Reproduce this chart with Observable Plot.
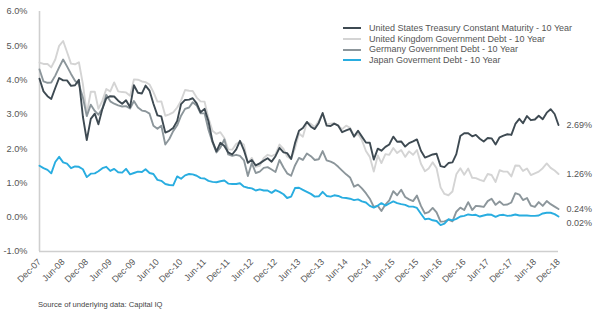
<!DOCTYPE html>
<html>
<head>
<meta charset="utf-8">
<script src="https://cdn.jsdelivr.net/npm/d3@7"></script>
<script src="https://cdn.jsdelivr.net/npm/@observablehq/plot@0.6"></script>
<style>
  body { margin: 0; background: #fff; font-family: "Liberation Sans", Arial, sans-serif; }
  #wrap { position: relative; width: 600px; height: 325px; overflow: hidden; }
  #legend { position: absolute; left: 343px; top: 23px; font-size: 9px; color: #555; line-height: 10.7px; }
  #legend .row { display: flex; align-items: center; white-space: nowrap; }
  #legend .sw { width: 18px; height: 2px; margin-right: 8px; }
  #source { position: absolute; left: 38px; top: 300px; font-size: 7.6px; color: #444; }
</style>
</head>
<body>
<div id="wrap">
  <div id="chart"></div>
  <div id="legend"></div>
  <div id="source">Source of underlying data: Capital IQ</div>
</div>
<script>
const seriesNames = [
  "United States Treasury Constant Maturity - 10 Year",
  "United Kingdom Government Debt - 10 Year",
  "Germany Government Debt - 10 Year",
  "Japan Goverment Debt - 10 Year"
];
const seriesColors = ["#3e4a52", "#d4d4d4", "#8c969b", "#29ade0"];

const tickLabels = ["Dec-07","Jun-08","Dec-08","Jun-09","Dec-09","Jun-10","Dec-10","Jun-11","Dec-11","Jun-12","Dec-12",
  "Jun-13","Dec-13","Jun-14","Dec-14","Jun-15","Dec-15","Jun-16","Dec-16","Jun-17","Dec-17","Jun-18","Dec-18"];
const yTicks = [-1, 0, 1, 2, 3, 4, 5, 6];

// Monthly values, Dec-07 .. Dec-18 (percent)
const us = [4.04,
  3.67,3.53,3.45,3.77,4.06,3.99,3.99,3.83,3.85,4.01,2.93,2.25,
  2.87,3.02,2.71,3.16,3.47,3.53,3.52,3.40,3.31,3.41,3.21,3.85,
  3.63,3.61,3.84,3.69,3.31,2.97,2.94,2.47,2.52,2.60,2.81,3.30,
  3.42,3.43,3.47,3.32,3.06,3.16,2.80,2.22,1.92,2.17,2.08,1.89,
  1.83,1.98,2.23,1.95,1.59,1.67,1.51,1.57,1.65,1.72,1.62,1.78,
  2.02,1.89,1.87,1.70,2.16,2.52,2.60,2.78,2.64,2.57,2.75,3.04,
  2.67,2.66,2.73,2.67,2.48,2.53,2.58,2.35,2.52,2.35,2.18,2.17,
  1.68,2.00,1.94,2.05,2.12,2.35,2.20,2.21,2.06,2.16,2.21,2.27,
  1.94,1.74,1.78,1.83,1.85,1.49,1.46,1.58,1.60,1.84,2.37,2.45,
  2.45,2.36,2.40,2.29,2.21,2.31,2.30,2.12,2.33,2.38,2.42,2.40,
  2.72,2.87,2.74,2.95,2.83,2.85,2.96,2.86,3.05,3.15,3.01,2.69];
const uk = [4.51,
  4.47,4.47,4.37,4.60,5.00,5.14,4.82,4.48,4.46,4.52,3.88,3.02,
  3.66,3.66,3.16,3.40,3.74,3.67,3.93,3.67,3.65,3.64,3.54,4.02,
  4.01,3.96,3.94,3.87,3.65,3.37,3.38,2.96,3.00,3.06,3.20,3.40,
  3.71,3.69,3.68,3.49,3.38,3.37,2.89,2.52,2.43,2.48,2.31,1.98,
  1.97,2.14,2.20,2.11,1.57,1.73,1.47,1.50,1.73,1.82,1.78,1.83,
  2.12,1.99,1.77,1.70,2.01,2.44,2.35,2.77,2.72,2.63,2.81,3.02,
  2.71,2.73,2.74,2.67,2.57,2.67,2.61,2.37,2.43,2.25,1.93,1.76,
  1.33,1.80,1.58,1.84,1.82,2.02,1.87,1.96,1.76,1.92,1.82,1.96,
  1.56,1.34,1.42,1.60,1.43,0.87,0.68,0.64,0.75,1.25,1.43,1.24,
  1.42,1.15,1.14,1.09,1.05,1.26,1.23,1.03,1.37,1.33,1.33,1.19,
  1.51,1.50,1.35,1.42,1.23,1.28,1.33,1.43,1.57,1.44,1.36,1.26];
const germany = [4.31,
  3.96,3.92,3.93,4.13,4.37,4.60,4.40,4.18,3.98,3.88,3.49,2.95,
  3.28,3.10,2.99,3.17,3.57,3.38,3.31,3.26,3.23,3.24,3.17,3.39,
  3.20,3.11,3.09,3.02,2.67,2.58,2.67,2.12,2.28,2.51,2.68,2.96,
  3.16,3.20,3.35,3.26,3.03,3.03,2.55,2.19,1.89,2.03,2.27,1.83,
  1.79,1.82,1.79,1.66,1.20,1.58,1.29,1.33,1.44,1.46,1.39,1.32,
  1.67,1.45,1.28,1.21,1.51,1.73,1.67,1.86,1.78,1.67,1.69,1.93,
  1.66,1.62,1.57,1.47,1.36,1.25,1.16,0.89,0.95,0.84,0.70,0.54,
  0.30,0.33,0.18,0.37,0.49,0.76,0.64,0.80,0.59,0.52,0.47,0.63,
  0.33,0.11,0.15,0.27,0.14,-0.13,-0.12,-0.07,-0.12,0.16,0.28,0.21,
  0.44,0.21,0.33,0.32,0.30,0.47,0.54,0.36,0.46,0.36,0.37,0.43,
  0.70,0.66,0.50,0.56,0.34,0.30,0.44,0.33,0.47,0.38,0.31,0.24];
const japan = [1.50,
  1.43,1.38,1.28,1.61,1.76,1.60,1.56,1.43,1.48,1.47,1.40,1.17,
  1.27,1.28,1.34,1.43,1.47,1.35,1.41,1.31,1.30,1.41,1.25,1.29,
  1.33,1.32,1.40,1.29,1.26,1.09,1.06,0.97,0.94,0.93,1.19,1.12,
  1.22,1.26,1.25,1.21,1.14,1.13,1.06,1.03,1.02,1.05,1.07,0.98,
  0.97,0.97,0.99,0.89,0.86,0.84,0.78,0.81,0.78,0.78,0.71,0.79,
  0.74,0.67,0.56,0.60,0.85,0.86,0.80,0.74,0.68,0.60,0.61,0.74,
  0.62,0.60,0.64,0.62,0.57,0.56,0.54,0.50,0.52,0.46,0.43,0.33,
  0.28,0.34,0.41,0.34,0.40,0.46,0.41,0.38,0.36,0.31,0.31,0.27,
  0.10,-0.06,-0.04,-0.09,-0.11,-0.23,-0.19,-0.06,-0.09,-0.05,0.02,0.04,
  0.08,0.06,0.07,0.02,0.05,0.08,0.07,0.01,0.06,0.07,0.04,0.05,
  0.08,0.05,0.05,0.05,0.04,0.04,0.05,0.11,0.13,0.13,0.09,0.02];

const parse = d3.utcParse("%b-%y");
const fmt = d3.utcFormat("%b-%y");
const tickDates = tickLabels.map(parse);
const start = tickDates[0];
const end = tickDates[tickDates.length - 1];
const months = d3.utcMonth.range(start, d3.utcMonth.offset(end, 1));

const allSeries = [us, uk, germany, japan];
const rows = allSeries.flatMap((vals, s) => vals.map((v, i) => ({date: months[i], value: v, series: seriesNames[s], s})));
const lastRows = allSeries.map((vals, s) => ({date: months[vals.length - 1], value: vals[vals.length - 1], s}));

const drawOrder = [1, 2, 0, 3];
const endText = (data, dy) => Plot.text(data, {x: "date", y: "value", text: d => d.value.toFixed(2) + "%",
  dx: 8, dy, textAnchor: "start", fontSize: 9, fill: "#555"});

const chart = Plot.plot({
  width: 600,
  height: 295,
  marginTop: 11,
  marginBottom: 44,
  marginLeft: 39,
  marginRight: 42,
  style: {fontFamily: "'Liberation Sans', Arial, sans-serif", background: "#fff"},
  x: {type: "utc", domain: [start, end]},
  y: {domain: [-1, 6]},
  marks: [
    Plot.axisX({ticks: tickDates, tickFormat: fmt, tickRotate: -45, tickSize: 0, tickPadding: 9,
      fontSize: 9, fill: "#555", label: null}),
    Plot.axisY({ticks: yTicks, tickFormat: d => d.toFixed(1) + "%", tickSize: 0, tickPadding: 12,
      fontSize: 9.2, fill: "#555", label: null}),
    Plot.ruleY([-1], {stroke: "#cfcfcf", strokeWidth: 1.6}),
    Plot.ruleX([start], {stroke: "#cfcfcf", strokeWidth: 1.6}),
    ...drawOrder.map(s => Plot.line(rows.filter(d => d.s === s), {
      x: "date", y: "value", stroke: seriesColors[s], strokeWidth: 1.9, strokeLinejoin: "round"
    })),
    endText(lastRows.filter(d => d.s !== 3), 0),
    endText(lastRows.filter(d => d.s === 3), 7)
  ]
});
document.getElementById("chart").appendChild(chart);

const legend = document.getElementById("legend");
seriesNames.forEach((name, s) => {
  const row = document.createElement("div");
  row.className = "row";
  const sw = document.createElement("span");
  sw.className = "sw";
  sw.style.background = seriesColors[s];
  const t = document.createElement("span");
  t.textContent = name;
  row.appendChild(sw); row.appendChild(t);
  legend.appendChild(row);
});
</script>
</body>
</html>
